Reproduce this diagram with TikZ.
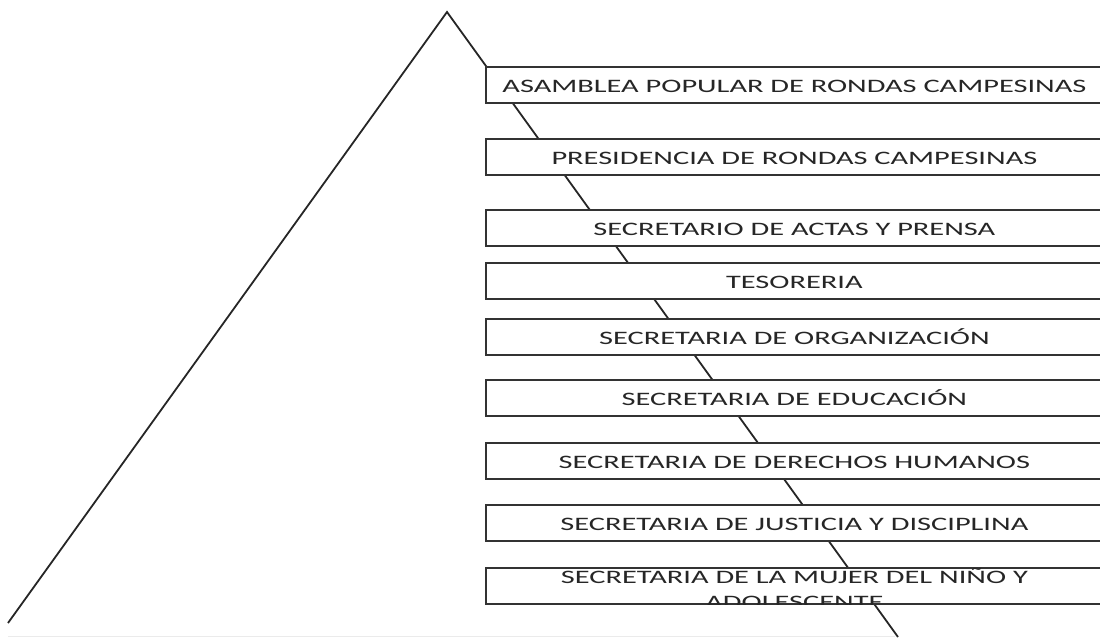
\documentclass[tikz,border=0pt]{standalone}
\usepackage{fontspec}
\usepackage{graphicx}
\setmainfont{Carlito}
\newcommand\widetxt[1]{\scalebox{1.6}[1]{#1}}
\begin{document}
\begin{tikzpicture}[x=1pt,y=-1pt,
  edge/.style={draw=black!85,line width=1.8pt},
  faint/.style={draw=black!8,line width=1pt},
  orgbox/.style={draw=black!80,line width=1.8pt,fill=white,anchor=north west,
    minimum width=617pt,minimum height=36pt,inner sep=0pt,
    font=\fontsize{19}{24}\selectfont,text=black!85,text height=16pt,text depth=0pt},
  linetxt/.style={inner sep=0pt,font=\fontsize{19}{24}\selectfont,text=black!85,
    text height=12pt,text depth=0pt}]
\useasboundingbox (0,0) rectangle (1100,637);
\clip (0,0) rectangle (1100,637);
\coordinate (apex) at (447,12);
\coordinate (lb) at (8,623);
\coordinate (rb) at (898,637);
\coordinate (fa) at (8,636);
\coordinate (fb) at (895,636);
\draw[faint] (fa) -- (fb);
\draw[edge] (lb) -- (apex) -- (rb);
\node[orgbox] (b1) at (485,66) {\widetxt{ASAMBLEA POPULAR DE RONDAS CAMPESINAS}};
\node[orgbox] (b2) at (485,138) {\widetxt{PRESIDENCIA DE RONDAS CAMPESINAS}};
\node[orgbox] (b3) at (485,209) {\widetxt{SECRETARIO DE ACTAS Y PRENSA}};
\node[orgbox] (b4) at (485,262) {\widetxt{TESORERIA}};
\node[orgbox] (b5) at (485,318) {\widetxt{SECRETARIA DE ORGANIZACIÓN}};
\node[orgbox] (b6) at (485,379) {\widetxt{SECRETARIA DE EDUCACIÓN}};
\node[orgbox] (b7) at (485,442) {\widetxt{SECRETARIA DE DERECHOS HUMANOS}};
\node[orgbox] (b8) at (485,504) {\widetxt{SECRETARIA DE JUSTICIA Y DISCIPLINA}};
\node[orgbox] (b9) at (485,567) {};
\begin{scope}
  \clip ([yshift=12pt]b9.north west) rectangle (b9.south east);
  \node[linetxt] (t9a) at ([yshift=-10pt]b9.north) {\widetxt{SECRETARIA DE LA MUJER DEL NIÑO Y}};
  \node[linetxt] (t9b) at ([yshift=-35pt]b9.north) {\widetxt{ADOLESCENTE}};
\end{scope}
\end{tikzpicture}
\end{document}
